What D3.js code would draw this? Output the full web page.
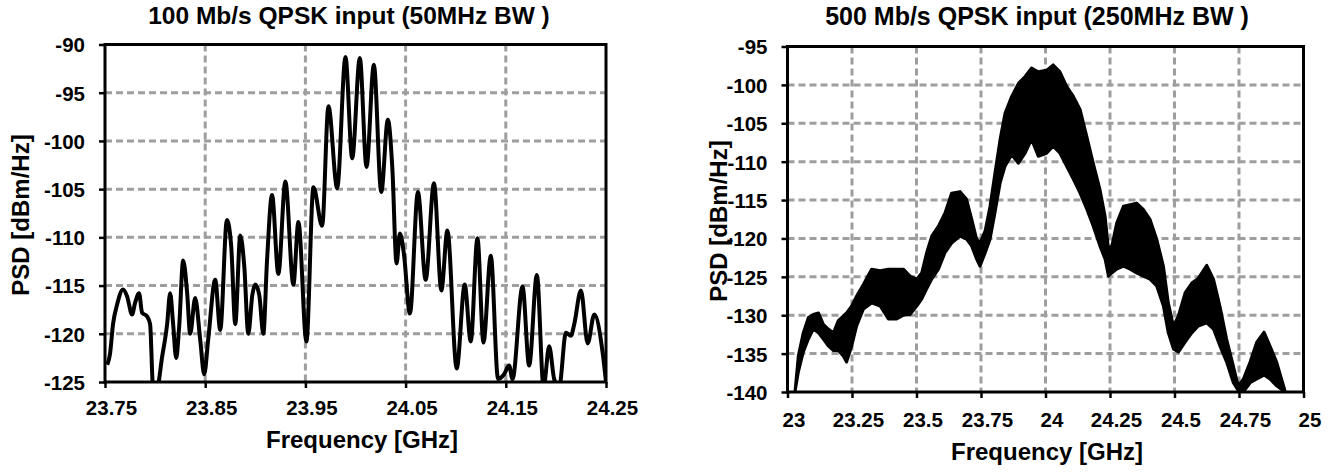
<!DOCTYPE html>
<html>
<head>
<meta charset="utf-8">
<script src="https://cdn.jsdelivr.net/npm/d3@7"></script>
<style>
body { margin: 0; background: #fff; }
svg { display: block; font-family: "Liberation Sans", Arial, sans-serif; font-weight: bold; }
</style>
</head>
<body>
<svg width="1330" height="472"></svg>
<script>
// ---- left panel: 100 Mb/s (GHz, dBm/Hz)
var leftFreq = [23.7523, 23.755, 23.758, 23.762, 23.768, 23.772, 23.777, 23.780, 23.784, 23.787,
    23.792, 23.795, 23.798, 23.802, 23.807, 23.812, 23.815, 23.818, 23.821, 23.824,
    23.828, 23.832, 23.835, 23.840, 23.845, 23.849, 23.853, 23.860, 23.865, 23.8717,
    23.876, 23.880, 23.885, 23.889, 23.893, 23.897, 23.900, 23.904, 23.908, 23.9117,
    23.9167, 23.923, 23.930, 23.938, 23.943, 23.951, 23.958, 23.9667, 23.973, 23.9817,
    23.990, 23.9967, 24.0043, 24.011, 24.0183, 24.0257, 24.0323, 24.0367, 24.041, 24.0443,
    24.0483, 24.0543, 24.0623, 24.070, 24.0783, 24.0857, 24.0917, 24.101, 24.109, 24.115,
    24.1217, 24.1277, 24.135, 24.1423, 24.1483, 24.1533, 24.1567, 24.1667, 24.1733, 24.181,
    24.1877, 24.1933, 24.1983, 24.2033, 24.210, 24.215, 24.2183, 24.225, 24.2317, 24.2383,
    24.2467, 24.250];
var leftPsd = [-123.2, -122.1, -119, -117, -115.4, -116.1, -118, -116.8, -115.8, -117.8,
    -118.2, -119, -125.5, -125.5, -122.4, -119, -115.8, -119, -122.5, -119.3,
    -112.4, -115.8, -120, -116.3, -120.6, -124.2, -120.6, -114.4, -119.6, -108.2,
    -111, -119, -109.8, -113, -120, -116, -114.9, -116, -120, -112.4,
    -105.6, -113.8, -104.2, -114.9, -108.4, -120.8, -104.8, -108.8, -96.4, -104.9,
    -91.3, -101.8, -91.4, -102.7, -92.1, -105.3, -97.8, -102.7, -112.7, -109.6,
    -111.7, -117.9, -105.3, -114.4, -104.4, -115.5, -109.3, -123.6, -114.9, -120.8,
    -110.1, -120.9, -111.9, -124.7, -124.2, -123.3, -124.7, -115.1, -123.3, -113.9,
    -125.5, -121.3, -124.7, -125.5, -119.9, -120.2, -119, -115.5, -121, -118,
    -122, -125];
var leftXTicks = [23.75, 23.85, 23.95, 24.05, 24.15, 24.25];
var leftYTicks = [-90, -95, -100, -105, -110, -115, -120, -125];

// ---- right panel: 500 Mb/s, upper and lower edge of the noisy band
var rightFreq = [23.029, 23.042, 23.061, 23.081, 23.100, 23.120, 23.139, 23.158, 23.178, 23.197,
    23.216, 23.229, 23.249, 23.268, 23.294, 23.326, 23.359, 23.391, 23.423, 23.449,
    23.475, 23.501, 23.520, 23.539, 23.559, 23.585, 23.610, 23.636, 23.669, 23.694,
    23.714, 23.733, 23.746, 23.766, 23.785, 23.804, 23.824, 23.843, 23.869, 23.895,
    23.921, 23.946, 23.972, 24.004, 24.030, 24.056, 24.082, 24.108, 24.134, 24.160,
    24.185, 24.211, 24.231, 24.244, 24.257, 24.276, 24.302, 24.328, 24.353, 24.379,
    24.405, 24.431, 24.457, 24.476, 24.496, 24.515, 24.541, 24.567, 24.592, 24.625,
    24.651, 24.676, 24.702, 24.728, 24.747, 24.767, 24.793, 24.819, 24.847, 24.870,
    24.896, 24.928];
var rightUpper = [-140, -135.3, -132.3, -130.3, -129.9, -129.7, -131.2, -131.8, -132.3, -130.7,
    -130.1, -129.7, -128.8, -127.5, -126, -124, -124.2, -124, -124, -124,
    -124.9, -125.3, -124.5, -121.9, -119.7, -118.4, -116.7, -114.1, -113.9, -114.9,
    -117.5, -120.1, -120.6, -119, -115.8, -111.5, -107.1, -103.7, -101.5, -99.8,
    -98.9, -97.8, -98.3, -98.1, -97.4, -98.3, -100.2, -101.5, -103.2, -106.7,
    -110.2, -113.6, -117.1, -121.4, -121, -118, -115.8, -115.6, -115.4, -116.2,
    -117.5, -120.1, -123.6, -128.4, -131.4, -130.1, -127.1, -125.8, -125.2, -123.5,
    -125.3, -128.8, -133.1, -136.6, -139.2, -138.3, -136.1, -133.5, -132.2, -134,
    -136.1, -139.8];
var rightLower = [-140, -137.4, -134.8, -133.1, -131.8, -132.3, -133.1, -134, -134.6, -134.6,
    -135.3, -136.1, -134, -131.4, -129.2, -128.4, -128.8, -130.5, -130.5, -130,
    -129.9, -128.8, -127.9, -126.6, -125.3, -124, -121.9, -120.6, -119.7, -120.1,
    -121, -122.7, -123.6, -121.9, -120.1, -116.7, -112.8, -110.6, -109.1, -110.2,
    -108.9, -107.1, -109.3, -108.9, -108, -108.9, -110.6, -112.3, -114.1, -116.2,
    -118.4, -121, -122.7, -124.9, -124.5, -124, -123.6, -124, -124.5, -124.9,
    -125.3, -126.2, -128.8, -132.3, -134.4, -134.8, -133.5, -132.3, -131.4, -131,
    -131.8, -134, -136.1, -138.8, -139.8, -140, -138.8, -138.3, -137.8, -138.3,
    -139.2, -140];
var rightXTicks = [23, 23.25, 23.5, 23.75, 24, 24.25, 24.5, 24.75, 25];
var rightYTicks = [-95, -100, -105, -110, -115, -120, -125, -130, -135, -140];

var svg = d3.select("svg");
svg.append("rect").attr("width", 1330).attr("height", 472).attr("fill", "#fff");

function drawPanel(p) {
    var x = d3.scaleLinear().domain([p.xTicks[0], p.xTicks[p.xTicks.length - 1]]).range([p.left, p.right]);
    var y = d3.scaleLinear().domain([p.yTicks[p.yTicks.length - 1], p.yTicks[0]]).range([p.bottom, p.top]);
    var g = svg.append("g");

    // dashed grid
    g.append("g").selectAll("line")
        .data(p.xTicks.slice(1, -1))
        .enter().append("line")
        .attr("x1", function (d) { return x(d); })
        .attr("x2", function (d) { return x(d); })
        .attr("y1", p.top).attr("y2", p.bottom)
        .attr("stroke", "#9e9e9e").attr("stroke-width", 3).attr("stroke-dasharray", "7,4");
    g.append("g").selectAll("line")
        .data(p.yTicks.slice(1, -1))
        .enter().append("line")
        .attr("y1", function (d) { return y(d); })
        .attr("y2", function (d) { return y(d); })
        .attr("x1", p.left).attr("x2", p.right)
        .attr("stroke", "#9e9e9e").attr("stroke-width", 3).attr("stroke-dasharray", "7,4");

    var clipId = "clip" + p.id;
    svg.append("clipPath").attr("id", clipId)
        .append("rect").attr("x", p.left).attr("y", p.top)
        .attr("width", p.right - p.left).attr("height", p.bottom - p.top);

    p.drawData(g.append("g").attr("clip-path", "url(#" + clipId + ")"), x, y);

    // frame
    g.append("rect")
        .attr("x", p.left).attr("y", p.top)
        .attr("width", p.right - p.left).attr("height", p.bottom - p.top)
        .attr("fill", "none").attr("stroke", "#000").attr("stroke-width", 3);

    var xAxis = g.append("g")
        .attr("transform", "translate(0," + p.bottom + ")")
        .call(d3.axisBottom(x).tickValues(p.xTicks).tickSize(6).tickFormat(String));
    var yAxis = g.append("g")
        .attr("transform", "translate(" + p.left + ",0)")
        .call(d3.axisLeft(y).tickValues(p.yTicks).tickSize(6).tickFormat(String));
    [xAxis, yAxis].forEach(function (a) {
        a.select(".domain").remove();
        a.selectAll("line").attr("stroke", "#000").attr("stroke-width", 2.5);
        a.selectAll("text").attr("fill", "#000").style("font-size", "20.5px");
    });
    xAxis.selectAll("text").attr("x", 6).attr("y", p.xLabelGap).attr("dy", 0);
    yAxis.selectAll("text").attr("x", -20).attr("dy", "0.36em");

    g.append("text")
        .attr("x", p.titleX).attr("y", p.titleY)
        .attr("text-anchor", "middle").style("font-size", p.titleSize + "px")
        .text(p.title);
    g.append("text")
        .attr("x", p.xTitleX).attr("y", p.xTitleY)
        .attr("text-anchor", "middle").style("font-size", "24px")
        .text("Frequency [GHz]");
    g.append("text")
        .attr("transform", "translate(" + p.yTitleX + "," + p.yTitleY + ") rotate(-90)")
        .attr("text-anchor", "middle").style("font-size", "24px")
        .text("PSD [dBm/Hz]");
}

drawPanel({
    id: "L", left: 105, right: 606, top: 44.5, bottom: 382,
    xTicks: leftXTicks, yTicks: leftYTicks, xLabelGap: 33,
    title: "100 Mb/s QPSK input (50MHz BW )", titleX: 349, titleY: 24, titleSize: 24.5,
    xTitleX: 362, xTitleY: 448, yTitleX: 28.5, yTitleY: 215,
    drawData: function (g, x, y) {
        var pts = leftFreq.map(function (f, i) { return [f, leftPsd[i]]; });
        g.append("path")
            .datum(pts)
            .attr("fill", "none").attr("stroke", "#000").attr("stroke-width", 4)
            .attr("stroke-linejoin", "round")
            .attr("d", d3.line()
                .curve(d3.curveMonotoneX)
                .x(function (d) { return x(d[0]); })
                .y(function (d) { return y(d[1]); }));
    }
});

drawPanel({
    id: "R", left: 787.5, right: 1303.5, top: 46.5, bottom: 392,
    xTicks: rightXTicks, yTicks: rightYTicks, xLabelGap: 34.5,
    title: "500 Mb/s QPSK input (250MHz BW )", titleX: 1037, titleY: 25, titleSize: 25,
    xTitleX: 1047, xTitleY: 460, yTitleX: 727, yTitleY: 221,
    drawData: function (g, x, y) {
        var band = rightFreq.map(function (f, i) { return { f: f, hi: rightUpper[i], lo: rightLower[i] }; });
        g.append("path")
            .datum(band)
            .attr("fill", "#000").attr("stroke", "#000").attr("stroke-width", 3)
            .attr("stroke-linejoin", "round")
            .attr("d", d3.area()
                .x(function (d) { return x(d.f); })
                .y0(function (d) { return y(d.lo); })
                .y1(function (d) { return y(d.hi); }));
    }
});
</script>
</body>
</html>
